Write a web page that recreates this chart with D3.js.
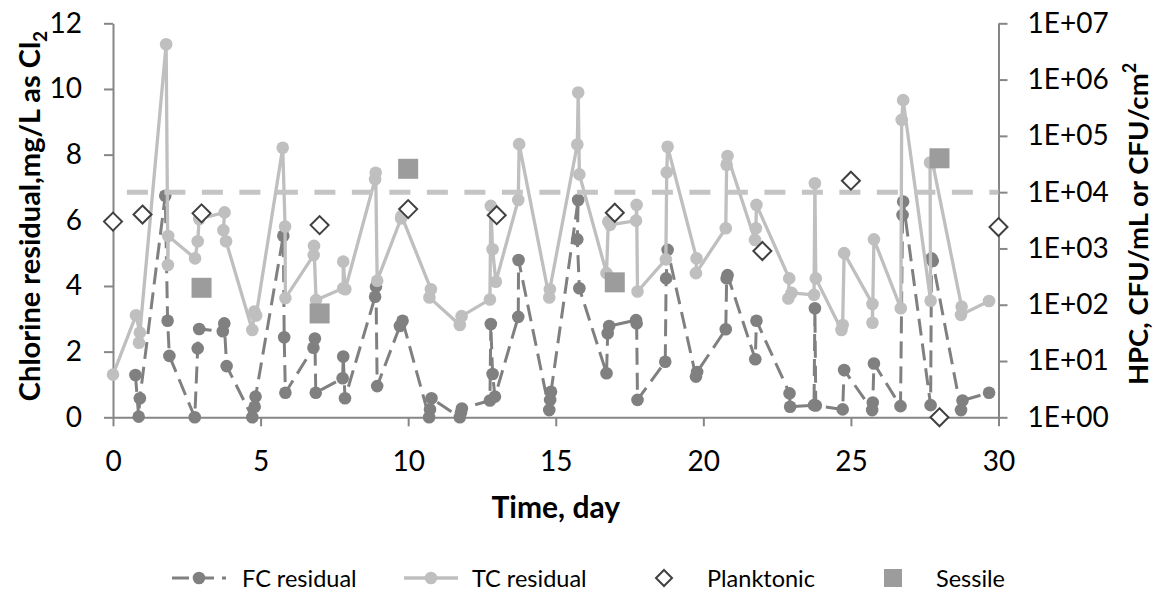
<!DOCTYPE html>
<html><head><meta charset="utf-8">
<script src="https://cdn.jsdelivr.net/npm/d3@7"></script>
<style>
body{margin:0;background:#fff}
svg text{font-family:Lato,"Open Sans",sans-serif;fill:#000}
</style>
</head><body>
<svg id="chart" width="1156" height="592"></svg>
<script>
// ---- data ----
const fcDays = [0.76,0.87,0.91, 1.77,1.85,1.91, 2.77,2.87,2.92, 3.72,3.77,3.85, 4.72,4.80,4.83,
  5.77,5.80,5.84, 6.79,6.84,6.87, 7.78,7.80,7.86, 8.88,8.91,8.95, 9.72,9.81, 10.71,10.74,10.79,
  11.75,11.79,11.82, 12.77,12.80,12.86,12.94, 13.73,13.74, 14.78,14.81,14.84, 15.76,15.73,15.80,
  16.72,16.76,16.81, 17.72,17.74,17.77, 18.71,18.74,18.79, 19.75,19.79, 20.76,20.79,20.82,
  21.76,21.80, 22.92,22.94, 23.75,23.78,23.81, 24.72,24.77, 25.72,25.74,25.78, 26.68,26.75,26.77,
  27.70,27.73,27.77, 28.73,28.78, 29.68];
const fcValues = [1.29,0.02,0.58, 6.75,2.94,1.87, 0,2.10,2.69, 2.62,2.86,1.56, 0,0.32,0.63,
  5.53,2.44,0.75, 2.12,2.40,0.75, 1.19,1.85,0.58, 3.67,3.98,0.95, 2.78,2.94, 0,0.24,0.58,
  0,0.15,0.27, 0.51,2.84,1.32,0.63, 3.06,4.79, 0.22,0.53,0.78, 6.62,5.42,3.93,
  1.34,2.56,2.78, 2.96,2.86,0.53, 1.69,4.23,5.10, 1.24,1.38, 2.68,4.23,4.33,
  1.77,2.94, 0.73,0.32, 0.37,3.32,0.36, 0.24,1.44, 0.22,0.45,1.64, 0.34,6.16,6.57,
  0.37,4.84,4.76, 0.22,0.51, 0.75];
const tcDays = [0, 0.78,0.91,0.88, 1.80,1.86,1.87, 2.78,2.87,2.92, 3.78,3.74,3.83, 4.72,4.79,4.85,
  5.75,5.83,5.84, 6.80,6.81,6.88, 7.80,7.80,7.87, 8.88,8.90,8.95, 9.76,9.78, 10.77,10.72,
  11.75,11.81, 12.77,12.80,12.86,12.97, 13.73,13.76, 14.78,14.80, 15.73,15.76,15.80,
  16.72,16.78,16.84, 17.72,17.74,17.77, 18.73,18.76,18.79, 19.77,19.75, 20.76,20.79,20.82,
  21.75,21.78,21.80, 22.91,22.88,22.99, 23.75,23.78,23.81, 24.68,24.72,24.77,
  25.73,25.73,25.78, 26.69,26.72,26.77, 27.70,27.68,27.77, 28.75,28.73, 29.68];
const tcValues = [1.30, 3.11,2.58,2.27, 11.36,4.64,5.52, 4.84,5.36,6.04, 6.24,5.70,5.36, 2.66,3.22,3.10,
  8.21,5.81,3.63, 4.94,5.22,3.57, 3.93,4.74,3.90, 7.25,7.45,4.16, 6.06,6.13, 3.90,3.65,
  2.81,3.08, 3.59,6.44,5.12,4.13, 6.62,8.32, 3.65,3.90, 8.31,9.89,7.40,
  4.39,5.96,5.86, 5.99,6.47,3.83, 4.81,7.46,8.24, 4.84,4.39, 5.76,7.69,7.96,
  5.40,5.76,6.47, 4.23,3.62,3.79, 3.73,7.13,4.23, 2.66,2.81,5.00,
  3.45,2.88,5.42, 3.32,9.06,9.66, 3.55,7.76,7.74, 3.37,3.12, 3.54];
const planktonicDays = [0,1,3,7,10,13,17,22,25,28,30];
const planktonicValues = [3000,4000,4200,2600,5000,3900,4300,900,16000,1,2400];
const sessileDays = [3,7,10,17,28];
const sessileValues = [200,70,26000,250,40000];
const hpcReference = 10000;
const xTicks = [0,5,10,15,20,25,30];
const leftTicks = [0,2,4,6,8,10,12];
const rightTicks = [1,10,100,1000,10000,100000,1000000,10000000];
const rightTickLabels = ["1E+00","1E+01","1E+02","1E+03","1E+04","1E+05","1E+06","1E+07"];
const seriesNames = ["FC residual","TC residual","Planktonic","Sessile"];

// ---- layout ----
const svg = d3.select("#chart");
const L = 113, R = 998.5, T = 23.3, B = 417.3;
const x = d3.scaleLinear().domain([0,30]).range([L,R]);
const yL = d3.scaleLinear().domain([0,12]).range([B,T]);
const yR = d3.scaleLog().domain([1,1e7]).range([B,T]);

const axisColor = "#868686";
const fcColor = "#808080", tcColor = "#bfbfbf", sesColor = "#9c9c9c", refColor = "#c4c4c4";

function styleAxis(g, size){
  g.select(".domain").attr("stroke", axisColor).attr("stroke-width", 2);
  g.selectAll(".tick line").attr("stroke", axisColor).attr("stroke-width", 2);
  g.selectAll(".tick text").attr("font-size", size).attr("fill","#000");
}

const gx = svg.append("g").attr("transform",`translate(0,${B})`)
  .call(d3.axisBottom(x).tickValues(xTicks).tickSize(9).tickSizeOuter(0).tickPadding(25));
styleAxis(gx, 28);
const gl = svg.append("g").attr("transform",`translate(${L},0)`)
  .call(d3.axisLeft(yL).tickValues(leftTicks).tickSize(9).tickSizeOuter(0).tickPadding(22));
styleAxis(gl, 28);
const gr = svg.append("g").attr("transform",`translate(${R},0)`)
  .call(d3.axisRight(yR).tickValues(rightTicks).tickSize(9).tickSizeOuter(0).tickPadding(20)
    .tickFormat((d,i)=>rightTickLabels[i]));
styleAxis(gr, 28);

// titles
svg.append("text").attr("x", (L+R)/2).attr("y", 518).attr("text-anchor","middle")
  .attr("font-size",30).attr("font-weight","bold").text("Time, day");
const lt = svg.append("text").attr("transform","translate(40,216) rotate(-90)")
  .attr("text-anchor","middle").attr("font-size",29).attr("font-weight","bold");
lt.append("tspan").text("Chlorine residual,mg/L as Cl");
lt.append("tspan").attr("font-size",19).attr("dy",7).text("2");
const rt = svg.append("text").attr("transform","translate(1148,224) rotate(-90)")
  .attr("text-anchor","middle").attr("font-size",27.5).attr("font-weight","bold");
rt.append("tspan").text("HPC, CFU/mL or CFU/cm");
rt.append("tspan").attr("font-size",18).attr("dy",-12).text("2");

// series data
const fc = fcDays.map((d,i)=>({d, v: fcValues[i]}));
const tc = tcDays.map((d,i)=>({d, v: tcValues[i]}));
const pl = planktonicDays.map((d,i)=>({d, v: planktonicValues[i]}));
const se = sessileDays.map((d,i)=>({d, v: sessileValues[i]}));

const line = d3.line().x(p=>x(p.d)).y(p=>yL(p.v));

// FC
svg.append("path").datum(fc).attr("d", line).attr("fill","none")
  .attr("stroke", fcColor).attr("stroke-width",3).attr("stroke-dasharray","17,8");
svg.append("g").selectAll("circle").data(fc).join("circle")
  .attr("cx",p=>x(p.d)).attr("cy",p=>yL(p.v)).attr("r",6.3).attr("fill",fcColor);
// TC
svg.append("path").datum(tc).attr("d", line).attr("fill","none")
  .attr("stroke", tcColor).attr("stroke-width",3.3);
svg.append("g").selectAll("circle").data(tc).join("circle")
  .attr("cx",p=>x(p.d)).attr("cy",p=>yL(p.v)).attr("r",6.3).attr("fill",tcColor);

// reference line (HPC limit)
svg.append("line").attr("x1", x(0.47)).attr("x2", R).attr("y1", yR(hpcReference)).attr("y2", yR(hpcReference))
  .attr("stroke", refColor).attr("stroke-width",5).attr("stroke-dasharray","21,16.5");

// planktonic diamonds
const diamond = s => `M0,${-s}L${s},0L0,${s}L${-s},0Z`;
svg.append("g").selectAll("path").data(pl).join("path")
  .attr("transform",p=>`translate(${x(p.d)},${yR(p.v)})`).attr("d", diamond(9))
  .attr("fill","#fff").attr("stroke","#404040").attr("stroke-width",2);
// sessile squares
svg.append("g").selectAll("rect").data(se).join("rect")
  .attr("x",p=>x(p.d)-10).attr("y",p=>yR(p.v)-10).attr("width",20).attr("height",20)
  .attr("fill", sesColor);

// legend
const ly = 578;
const leg = svg.append("g");
const legItems = [
  {cx:199, tx:242},
  {cx:431, tx:472},
  {cx:664, tx:707},
  {cx:893, tx:936}
];
// FC
leg.append("line").attr("x1",legItems[0].cx-27).attr("x2",legItems[0].cx+27).attr("y1",ly).attr("y2",ly)
  .attr("stroke",fcColor).attr("stroke-width",3).attr("stroke-dasharray","17,8");
leg.append("circle").attr("cx",legItems[0].cx).attr("cy",ly).attr("r",6.3).attr("fill",fcColor);
// TC
leg.append("line").attr("x1",legItems[1].cx-27).attr("x2",legItems[1].cx+27).attr("y1",ly).attr("y2",ly)
  .attr("stroke",tcColor).attr("stroke-width",3.3);
leg.append("circle").attr("cx",legItems[1].cx).attr("cy",ly).attr("r",6.3).attr("fill",tcColor);
// Planktonic
leg.append("path").attr("transform",`translate(${legItems[2].cx},${ly})`).attr("d",diamond(8))
  .attr("fill","#fff").attr("stroke","#404040").attr("stroke-width",2);
// Sessile
leg.append("rect").attr("x",legItems[3].cx-9).attr("y",ly-9).attr("width",18).attr("height",18).attr("fill",sesColor);
legItems.forEach((it,i)=>{
  leg.append("text").attr("x",it.tx).attr("y",ly+8.5)
    .attr("font-size",23.5).text(seriesNames[i]);
});
</script>
</body></html>
